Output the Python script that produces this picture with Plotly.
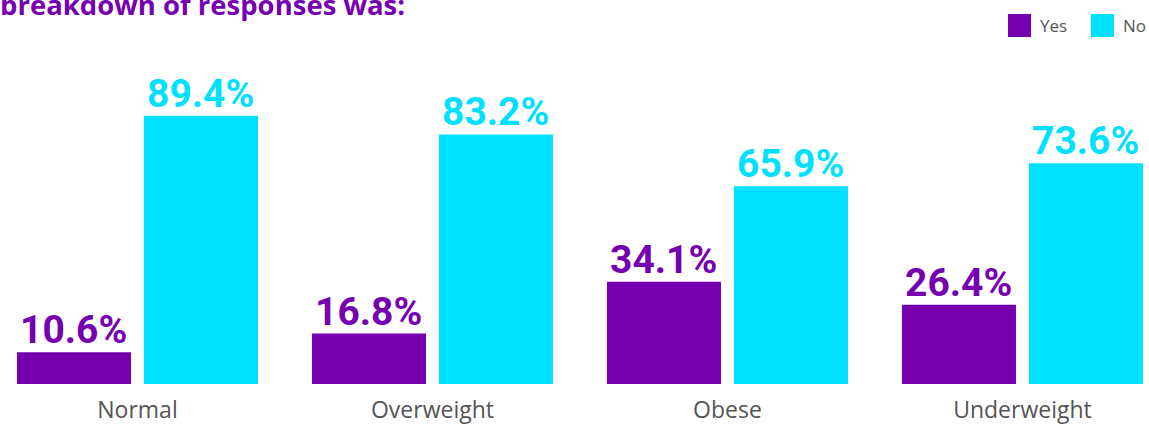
import plotly.graph_objects as go

categories = ["Normal", "Overweight", "Obese", "Underweight"]
yes_values = [10.6, 16.8, 34.1, 26.4]
no_values = [89.4, 83.2, 65.9, 73.6]

PURPLE = "#7600B0"
CYAN = "#00E1FF"
LABEL_GRAY = "#555555"

series = [("Yes", yes_values, PURPLE, -63.5), ("No", no_values, CYAN, 63.5)]

fig = go.Figure()
for name, vals, color, offset_px in series:
    fig.add_trace(go.Bar(
        x=categories, y=vals, name=name,
        marker=dict(color=color, line=dict(width=0)),
        showlegend=False,
        hoverinfo="skip",
    ))
    # value labels sitting just above each bar
    for cat, v in zip(categories, vals):
        fig.add_annotation(
            x=cat, y=v, xref="x", yref="y", xshift=offset_px, yshift=-3,
            text=f"<b>{v:.1f}%</b>", showarrow=False,
            xanchor="center", yanchor="bottom",
            font=dict(family="Roboto", size=39, color=color),
        )

# Legend drawn as squares + labels in the top-right corner
legend_items = [("Yes", PURPLE, 1008), ("No", CYAN, 1091)]
for label, color, x0 in legend_items:
    fig.add_shape(type="rect", xref="paper", yref="paper",
                  x0=x0 / 1149, x1=(x0 + 23) / 1149,
                  y0=(424 - 40 - 37) / 300, y1=(424 - 40 - 14) / 300,
                  fillcolor=color, line=dict(width=0))
    fig.add_annotation(text=label, xref="paper", yref="paper",
                       x=(x0 + 30) / 1149, y=(424 - 40 - 25.5) / 300,
                       xanchor="left", yanchor="middle", showarrow=False,
                       font=dict(family="Open Sans", size=17, color=LABEL_GRAY))

# Title line (runs off the top edge of the canvas)
fig.add_annotation(text="<b>breakdown of responses was:</b>", xref="paper", yref="paper",
                   x=-2 / 1149, y=(424 - 40 - 12) / 300, xanchor="left", yanchor="bottom",
                   yshift=-13, showarrow=False,
                   font=dict(family="Open Sans", size=27.5, color=PURPLE))

fig.update_layout(
    width=1149, height=424,
    margin=dict(l=0, r=0, t=84, b=40),
    barmode="group",
    bargap=0.139,
    bargroupgap=0.102,
    plot_bgcolor="white",
    paper_bgcolor="white",
    xaxis=dict(range=[-0.466, 3.429], showgrid=False, showline=False, zeroline=False,
               ticks="", ticklabelstandoff=10,
               tickfont=dict(family="Open Sans", size=23, color=LABEL_GRAY)),
    yaxis=dict(range=[0, 100], visible=False),
)

fig.write_html("out.html")
